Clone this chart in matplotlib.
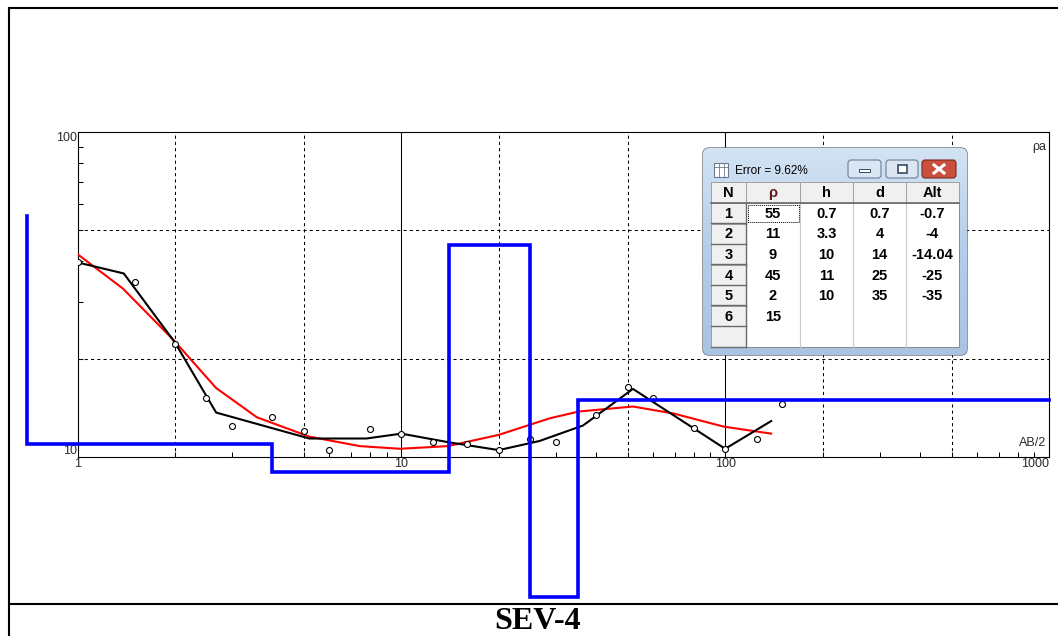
import numpy as np
import matplotlib
matplotlib.use("Agg")
import matplotlib.pyplot as plt
from matplotlib.patches import Rectangle, FancyBboxPatch
from matplotlib.ticker import FixedLocator, NullFormatter
from matplotlib.colors import LinearSegmentedColormap

# Field data: apparent resistivity vs AB/2
ab2_obs = [1, 1.5, 2, 2.5, 3, 4, 5, 6, 8, 10, 12.5, 16, 20, 25, 30, 40, 50, 60, 80, 100, 125, 150]
rho_obs = [39.7, 34.5, 22.3, 15.2, 12.5, 13.3, 12.0, 10.5, 12.2, 11.8, 11.1, 11.0, 10.5, 11.4,
           11.1, 13.5, 16.4, 15.2, 12.3, 10.6, 11.4, 14.6]

# Smoothed field curve (black)
ab2_smooth = [1, 1.39, 2.0, 2.68, 5.2, 7.8, 10, 14, 20, 26.7, 36.4, 51.9, 100, 138.7]
rho_smooth = [39.7, 36.7, 22.5, 13.7, 11.4, 11.4, 11.8, 11.1, 10.5, 11.2, 12.5, 16.2, 10.6, 12.9]

# Calculated model curve (red)
ab2_model = [1, 1.38, 1.98, 2.68, 3.58, 5.2, 7.45, 9.9, 13.9, 20, 28.7, 35.3, 51.9, 69.5, 99, 138.7]
rho_model = [42.1, 33.0, 22.9, 16.3, 13.25, 11.55, 10.8, 10.6, 10.8, 11.7, 13.15, 13.8, 14.3,
             13.6, 12.4, 11.8]

# Layered model
layer_rho = [55, 11, 9, 45, 2, 15]
layer_h = [0.7, 3.3, 10, 11, 10]
layer_d = [0.7, 4, 14, 25, 35]
layer_alt = [-0.7, -4, -14.04, -25, -35]
fit_error = 9.62

X_MAX = 1000
RHO_FLOOR = 3.7   # section is clamped at the frame bottom

TICK_FONT = "Liberation Sans"

fig = plt.figure(figsize=(10.58, 6.36), dpi=100)
ax = fig.add_axes([77.5 / 1058, 1 - 457 / 636, 971.5 / 1058, 325 / 636])
ax.set_xscale("log")
ax.set_yscale("log")
ax.set_xlim(1, X_MAX)
ax.set_ylim(10, 100)

# grid: solid decades, dashed at 2 and 5
for dec in [10, 100]:
    ax.axvline(dec, color="black", lw=0.75, zorder=1)
for v in [2, 5, 20, 50, 200, 500]:
    ax.axvline(v, color="black", lw=0.75, ls=(0, (3, 3)), zorder=1)
for v in [20, 50]:
    ax.axhline(v, color="black", lw=0.75, ls=(0, (3, 3)), zorder=1)

ax.xaxis.set_major_locator(FixedLocator([1, 10, 100, 1000]))
ax.xaxis.set_minor_locator(FixedLocator([m * 10 ** e for e in range(3) for m in range(2, 10)]))
ax.yaxis.set_major_locator(FixedLocator([10, 100]))
ax.yaxis.set_minor_locator(FixedLocator([m * 10 for m in range(2, 10)]))
ax.xaxis.set_minor_formatter(NullFormatter())
ax.yaxis.set_minor_formatter(NullFormatter())
ax.set_xticklabels(["1", "10", "100", "1000"])
ax.set_yticklabels(["10", "100"])
ax.tick_params(which="major", length=0, labelsize=9, labelcolor="#2a2a2a")
ax.tick_params(axis="x", which="major", pad=1.0)
ax.tick_params(axis="y", which="major", pad=0.5)
ax.tick_params(which="minor", direction="in", length=3.6, width=0.75)
ax.tick_params(top=False, right=False)
for lab in ax.get_xticklabels() + ax.get_yticklabels():
    lab.set_fontfamily(TICK_FONT)
ax.get_xticklabels()[-1].set_ha("right")
ylabs = ax.get_yticklabels()
ylabs[0].set_va("bottom")
ylabs[1].set_va("top")
for sp in ax.spines.values():
    sp.set_linewidth(0.8)

ax.text(0.997, 0.954, "ρa", transform=ax.transAxes, ha="right", va="center",
        fontsize=9, family=TICK_FONT, color="#2a2a2a")
ax.text(0.997, 0.034, "AB/2", transform=ax.transAxes, ha="right", va="baseline",
        fontsize=9, family=TICK_FONT, color="#2a2a2a")

# curves
ax.plot(ab2_model, rho_model, color="#ff0000", lw=1.5, zorder=3)
ax.plot(ab2_smooth, rho_smooth, color="black", lw=1.5, zorder=4)
ax.plot(ab2_obs, rho_obs, ls="none", marker="o", ms=4.3, mfc="white", mec="black",
        mew=0.8, zorder=5)

# layered section (blue step line)
xs, ys = [layer_d[0]], [layer_rho[0]]
for i, di in enumerate(layer_d):
    nxt = layer_d[i + 1] if i + 1 < len(layer_d) else X_MAX
    xs += [di, nxt]
    ys += [layer_rho[i + 1], layer_rho[i + 1]]
ys = np.maximum(ys, RHO_FLOOR)
ax.plot(xs, ys, color="#0000ff", lw=2.6, clip_on=False, zorder=6, solid_joinstyle="miter")

# overlay in pixel coordinates: frame, title, parameter window
ov = fig.add_axes([0, 0, 1, 1])
ov.set_xlim(0, 1058)
ov.set_ylim(636, 0)
ov.axis("off")

frame_kw = dict(color="black", lw=1.5, solid_capstyle="projecting")
ov.plot([8.5, 1058], [7.5, 7.5], **frame_kw)
ov.plot([9, 9], [7.5, 636], **frame_kw)
ov.plot([9, 1058], [603.5, 603.5], **frame_kw)
ov.text(537.5, 621.5, "SEV-4", ha="center", va="center", fontsize=23,
        family="Liberation Serif", weight="bold")

# window
wx0, wy0, wx1, wy1 = 703, 148, 967, 355
win = FancyBboxPatch((wx0, wy0), wx1 - wx0, wy1 - wy0,
                     boxstyle="round,pad=0,rounding_size=6",
                     fc="#bdd3ea", ec="#56606d", lw=0.9, zorder=10)
ov.add_patch(win)
grad_cmap = LinearSegmentedColormap.from_list("win", ["#d3e3f4", "#b4cde8", "#a9c4e2"])
grad = np.linspace(0, 1, 100).reshape(-1, 1)
im = ov.imshow(grad, extent=(wx0, wx1, wy1, wy0), cmap=grad_cmap, aspect="auto", zorder=10.5)
im.set_clip_path(win)
ov.set_xlim(0, 1058)
ov.set_ylim(636, 0)

# title bar
ov.add_patch(Rectangle((714, 163), 14, 14, fc="white", ec="#6b7c8f", lw=0.8, zorder=11))
for gx in [718.5, 723.5]:
    ov.plot([gx, gx], [163, 177], color="#6b7c8f", lw=0.6, zorder=12)
ov.plot([714, 728], [166.5, 166.5], color="#6b7c8f", lw=0.6, zorder=12)
ov.text(735, 170.5, f"Error = {fit_error:.2f}%", ha="left", va="center", fontsize=8.5,
        family=TICK_FONT, color="black", zorder=12)

btn_kw = dict(boxstyle="round,pad=0,rounding_size=3", lw=0.8, zorder=11)
ov.add_patch(FancyBboxPatch((848, 160), 33, 18, fc="#dae6f3", ec="#6d7f93", **btn_kw))
ov.add_patch(Rectangle((858.5, 169), 11, 3, fc="white", ec="#34495e", lw=0.7, zorder=12))
ov.add_patch(FancyBboxPatch((886, 160), 32, 18, fc="#dae6f3", ec="#6d7f93", **btn_kw))
ov.add_patch(Rectangle((897.5, 165), 9, 8, fc="white", ec="#34495e", lw=1.2, zorder=12))
ov.add_patch(FancyBboxPatch((922, 160), 34, 18, fc="#c9503f", ec="#7c2a1c", **btn_kw))
ov.plot([934, 944], [165, 173], color="white", lw=2.2, zorder=12)
ov.plot([934, 944], [173, 165], color="white", lw=2.2, zorder=12)

# table
tx0, ty0, tx1, ty1 = 711, 182, 959, 347
col_edges = [711, 746, 800, 853, 906, 959]
head_h = 21
row_h = (ty1 - ty0 - head_h) / 7
ov.add_patch(Rectangle((tx0, ty0), tx1 - tx0, ty1 - ty0, fc="white", ec="#828790",
                       lw=0.7, zorder=11))
headers = ["N", "ρ", "h", "d", "Alt"]
cell_font = dict(fontsize=10.5, family=TICK_FONT, weight="bold", ha="center",
                 va="center", zorder=13)
for j, name in enumerate(headers):
    c0, c1 = col_edges[j], col_edges[j + 1]
    ov.add_patch(Rectangle((c0, ty0), c1 - c0, head_h, fc="#f0f0f0", ec="#a0a0a0",
                           lw=0.7, zorder=12))
    ov.text((c0 + c1) / 2, ty0 + head_h / 2 + 0.5, name,
            color="#5c1a1a" if name == "ρ" else "black", **cell_font)
ov.plot([tx0, tx1], [ty0 + head_h, ty0 + head_h], color="#696969", lw=1.2, zorder=12.5)
for x in col_edges[2:-1]:
    ov.plot([x, x], [ty0 + head_h, ty1], color="#c8c8c8", lw=0.8, zorder=12)

for i in range(7):
    r0 = ty0 + head_h + i * row_h
    ov.add_patch(Rectangle((col_edges[0], r0), col_edges[1] - col_edges[0], row_h,
                           fc="#f0f0f0", ec="#a0a0a0", lw=0.7, zorder=12))
    ov.plot([col_edges[0], col_edges[1]], [r0 + row_h - 0.5, r0 + row_h - 0.5],
            color="#6a6a6a", lw=1.0, zorder=12.5)
    ov.plot([col_edges[1] - 0.5, col_edges[1] - 0.5], [r0, r0 + row_h],
            color="#6a6a6a", lw=1.0, zorder=12.5)
    if i < len(layer_rho):
        yc = r0 + row_h / 2 + 0.5
        ov.text((col_edges[0] + col_edges[1]) / 2, yc, str(i + 1), color="black", **cell_font)
        ov.text((col_edges[1] + col_edges[2]) / 2, yc, f"{layer_rho[i]:g}", color="black", **cell_font)
        if i < len(layer_h):
            ov.text((col_edges[2] + col_edges[3]) / 2, yc, f"{layer_h[i]:g}", color="black", **cell_font)
            ov.text((col_edges[3] + col_edges[4]) / 2, yc, f"{layer_d[i]:g}", color="black", **cell_font)
            ov.text((col_edges[4] + col_edges[5]) / 2, yc, f"{layer_alt[i]:g}", color="black", **cell_font)

# focus box on first cell
ov.add_patch(Rectangle((col_edges[1] + 1.5, ty0 + head_h + 1.5), col_edges[2] - col_edges[1] - 3,
                       row_h - 3, fill=False, ec="black", lw=0.7, ls=(0, (1, 1)), zorder=13))

fig.savefig("out.png", dpi=100)
